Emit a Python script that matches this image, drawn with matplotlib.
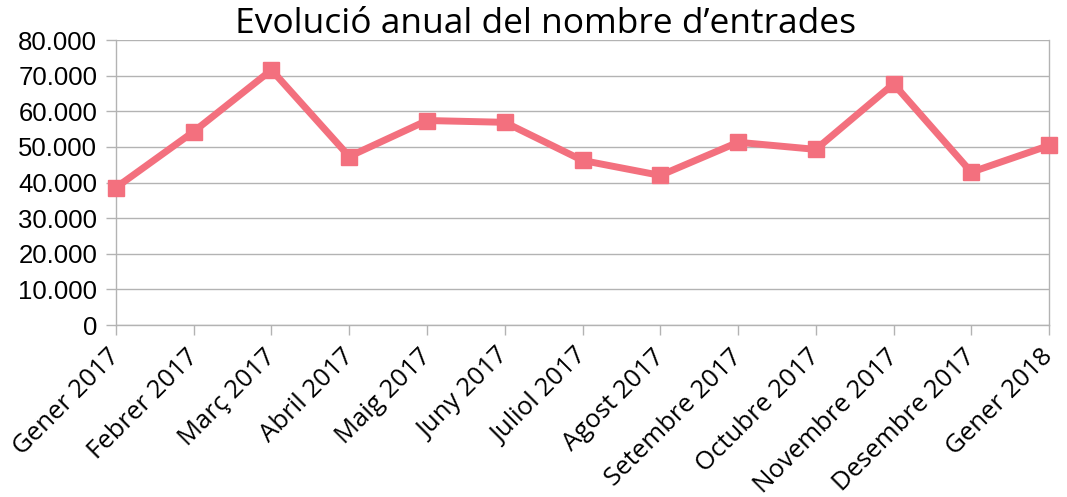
import matplotlib.pyplot as plt
import matplotlib.transforms as mtransforms
from matplotlib.ticker import FuncFormatter

months = ["Gener 2017", "Febrer 2017", "Març 2017", "Abril 2017", "Maig 2017",
          "Juny 2017", "Juliol 2017", "Agost 2017", "Setembre 2017",
          "Octubre 2017", "Novembre 2017", "Desembre 2017", "Gener 2018"]
entrades = [38600, 54300, 71600, 47300, 57400, 56900, 46200,
            42000, 51300, 49300, 67700, 42900, 50400]
y_ticks = [0, 10000, 20000, 30000, 40000, 50000, 60000, 70000, 80000]

LINE_COLOR = "#F3707E"
GRID_COLOR = "#b3b3b3"


def thousands(v, pos):
    return f"{int(v):,}".replace(",", ".")


fig = plt.figure(figsize=(10.67, 4.97), dpi=100)
ax = fig.add_axes([0.1087, 0.346, 0.8745, 0.5735])

x = range(len(months))
ax.plot(x, entrades, color=LINE_COLOR, linewidth=5, marker="s",
        markersize=11, zorder=3, clip_on=False)

ax.set_xlim(0, len(months) - 1)
ax.set_ylim(0, 80000)
ax.set_yticks(y_ticks)
ax.yaxis.set_major_formatter(FuncFormatter(thousands))
ax.set_xticks(list(x))
ax.set_xticklabels(months, rotation=45, ha="right", va="baseline",
                   rotation_mode="anchor", family="Open Sans", fontsize=18.5)
for lbl in ax.get_yticklabels():
    lbl.set_family("Liberation Sans")
    lbl.set_fontsize(18.5)

ax.grid(axis="y", color=GRID_COLOR, linewidth=1)
ax.set_axisbelow(True)
for side in ["left", "bottom", "right"]:
    ax.spines[side].set_color(GRID_COLOR)
    ax.spines[side].set_linewidth(1)
ax.spines["top"].set_visible(False)
ax.tick_params(axis="both", colors=GRID_COLOR, length=7.5, width=1,
               labelcolor="black")
ax.tick_params(axis="x", pad=16)
ax.tick_params(axis="y", pad=6)

# small sideways nudge of the rotated labels (after tick_params, which resets transforms)
shift = mtransforms.ScaledTranslation(5 / 100, 0, fig.dpi_scale_trans)
for lbl in ax.get_xticklabels():
    lbl.set_transform(lbl.get_transform() + shift)

fig.text(0.511, 1 - 33 / 497, "Evolució anual del nombre d\u2019entrades",
         family="Open Sans", fontsize=25.5, ha="center", va="baseline")

fig.savefig("out.png", dpi=100)
